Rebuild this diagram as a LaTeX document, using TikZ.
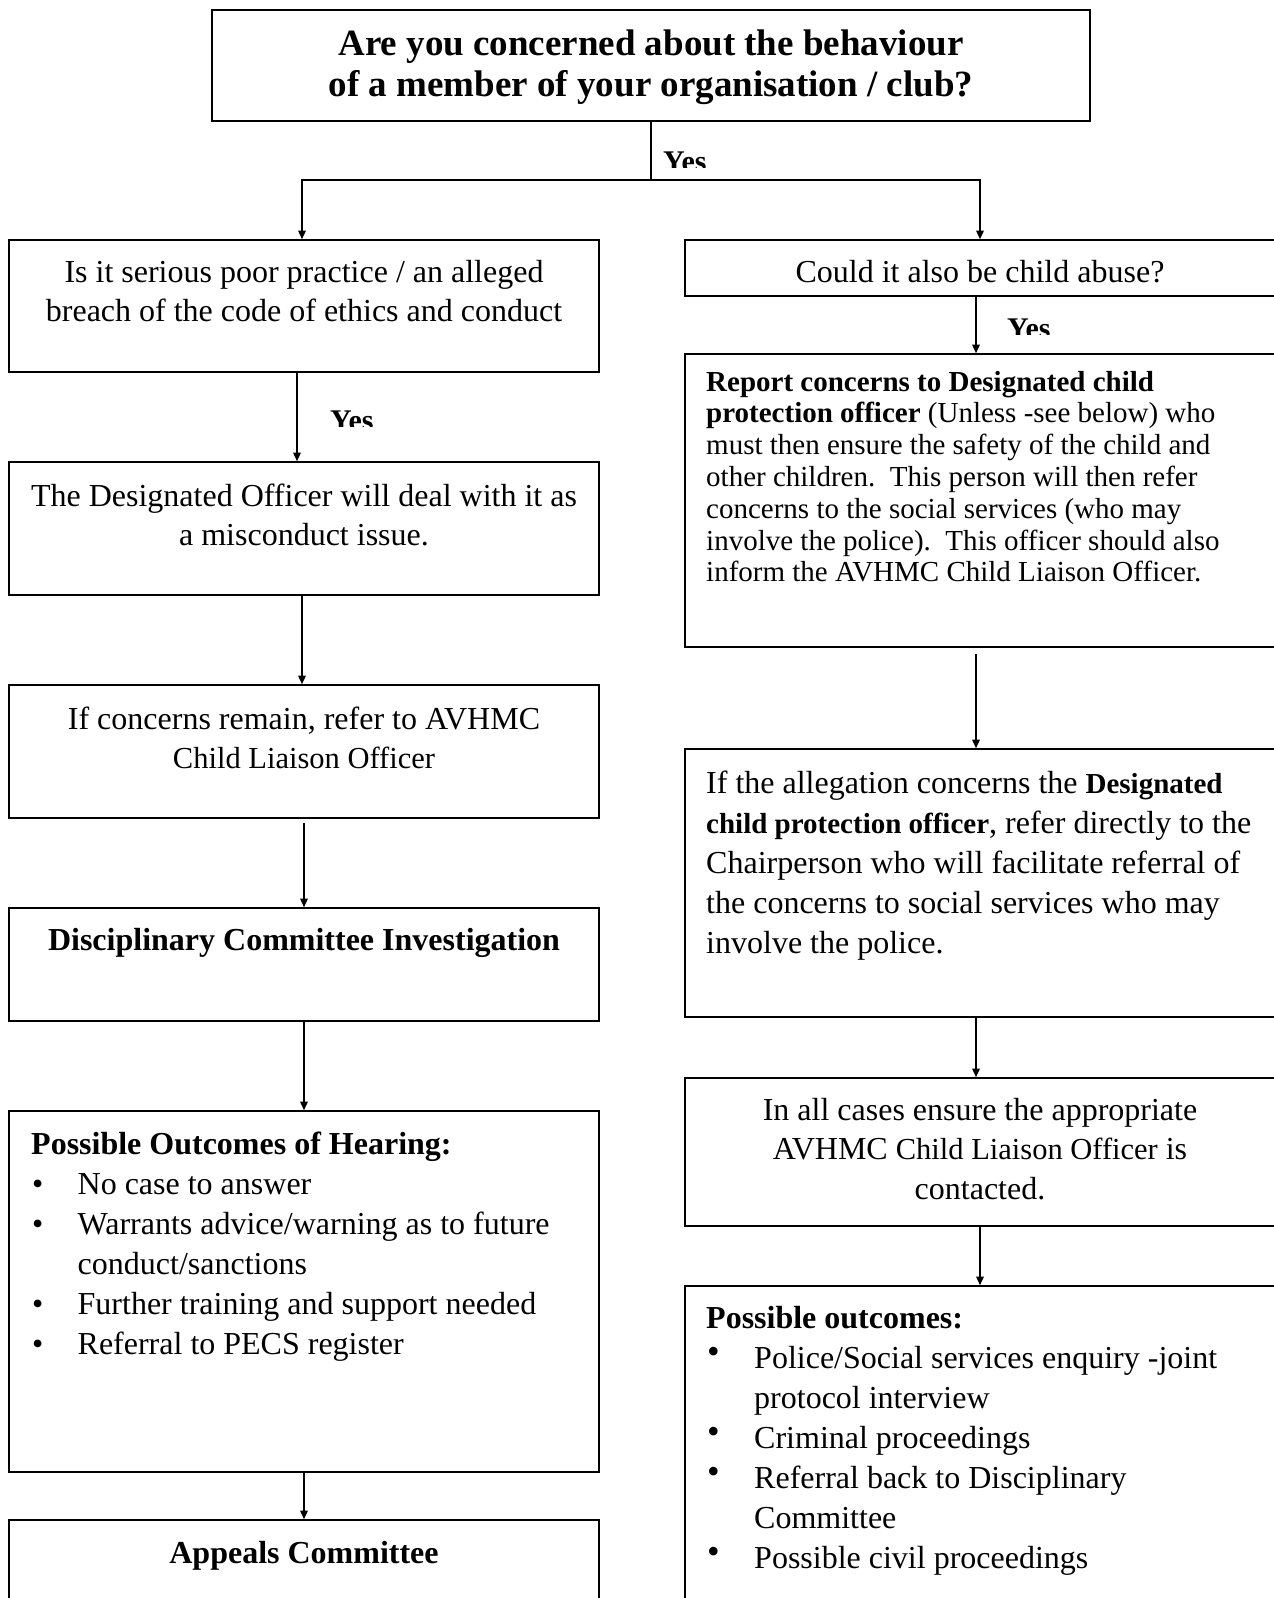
\documentclass[tikz,border=0pt]{standalone}
\usepackage{fontspec}
\usepackage{graphicx}
\setmainfont{Liberation Serif}
\usetikzlibrary{arrows.meta}
\newcommand\mkbox[5]{\node[box,minimum width={(#4)-(#2)},minimum height={(#5)-(#3)}] (#1) at ({((#2)+(#4))/2},{((#3)+(#5))/2}) {};}
\newcommand\blt{\hspace*{1pt}\makebox[45.5pt][l]{•}}
\newcommand\bltc{\hspace*{46.5pt}}
\newcommand\rblt{\hspace*{1pt}\makebox[47pt][l]{\raisebox{5pt}{\fontsize{36}{36}\selectfont •}}}
\newcommand\rbltc{\hspace*{48pt}}
\newcommand\cbold[1]{\textbf{\fontsize{29}{29}\selectfont #1}}
\newcommand\clo{{\fontsize{30.5}{30.5}\selectfont Child Liaison Officer}}
\tikzset{
 box/.style={draw,line width=1.6pt,rectangle,inner sep=0pt},
 conn/.style={line width=1.5pt},
 arr/.style={conn,-{Triangle[width=7.5pt,length=8.5pt]}},
 bodyf/.style={inner sep=0pt,font=\fontsize{32}{39.6}\selectfont},
 listf/.style={inner sep=0pt,font=\fontsize{32}{40}\selectfont},
 wideb/.style={inner sep=0pt,font=\fontsize{32}{40}\selectfont},
 smallf/.style={inner sep=0pt,font=\fontsize{29}{31.8}\selectfont},
 titlef/.style={inner sep=0pt,font=\fontsize{37}{41.5}\selectfont\bfseries},
 headf/.style={inner sep=0pt,font=\fontsize{32}{39.6}\selectfont\bfseries},
 yesf/.style={inner sep=0pt,font=\fontsize{30}{32}\selectfont\bfseries},
}
\begin{document}
\begin{tikzpicture}[x=1pt,y=-1pt]
\useasboundingbox (0,0) rectangle (1274,1598);
\fill[white] (0,0) rectangle (1274,1598);
\clip (0,0) rectangle (1274,1598);

% boxes
\mkbox{T}{212}{10}{1090}{121}
\mkbox{L1}{9}{240}{599}{372}
\mkbox{L2}{9}{462}{599}{595}
\mkbox{L3}{9}{685}{599}{818}
\mkbox{L4}{9}{908}{599}{1021}
\mkbox{L5}{9}{1111}{599}{1472}
\mkbox{L6}{9}{1520}{599}{1650}
\mkbox{R1}{685}{240}{1300}{296}
\mkbox{R2}{685}{354}{1300}{647}
\mkbox{R3}{685}{749}{1300}{1017}
\mkbox{R4}{685}{1078}{1300}{1226}
\mkbox{R5}{685}{1286}{1300}{1660}

% texts
\node[titlef,anchor=base] (tt) at (651,55) {\begin{tabular}[t]{@{}c@{}}Are you concerned about the behaviour\\of a member of your organisation / club?\end{tabular}};

\node[bodyf,anchor=base] (l1t) at (304,282) {\begin{tabular}[t]{@{}c@{}}Is it serious poor practice / an alleged\\breach of the code of ethics and conduct\end{tabular}};
\node[bodyf,anchor=base] (l2t) at (304,506) {\begin{tabular}[t]{@{}c@{}}The Designated Officer will deal with it as\\a misconduct issue.\end{tabular}};
\node[bodyf,anchor=base] (l3t) at (304,729) {\begin{tabular}[t]{@{}c@{}}If concerns remain, refer to AVHMC\\\clo\end{tabular}};
\node[headf,anchor=base] (l4t) at (304,950) {Disciplinary Committee Investigation};
\node[listf,anchor=base west] (l5t) at (31,1154) {\begin{tabular}[t]{@{}l@{}}\textbf{Possible Outcomes of Hearing:}\\
\blt No case to answer\\
\blt Warrants advice/warning as to future\\
\bltc conduct/sanctions\\
\blt Further training and support needed\\
\blt Referral to PECS register\end{tabular}};
\node[headf,anchor=base] (l6t) at (304,1563) {Appeals Committee};

\node[bodyf,anchor=base] (r1t) at (980,282) {Could it also be child abuse?};
\node[smallf,anchor=base west] (r2t) at (706,391) {\begin{tabular}[t]{@{}l@{}}\textbf{Report concerns to Designated child}\\
\textbf{protection officer} (Unless -see below) who\\
must then ensure the safety of the child and\\
other children.\ \ This person will then refer\\
concerns to the social services (who may\\
involve the police).\ \ This officer should also\\
inform the AVHMC Child Liaison Officer.\end{tabular}};
\node[wideb,anchor=base west] (r3t) at (706,793) {\begin{tabular}[t]{@{}l@{}}If the allegation concerns the \cbold{Designated}\\
\cbold{child protection officer}, refer directly to the\\
Chairperson who will facilitate referral of\\
the concerns to social services who may\\
involve the police.\end{tabular}};
\node[bodyf,anchor=base] (r4t) at (980,1120) {\begin{tabular}[t]{@{}c@{}}In all cases ensure the appropriate\\AVHMC \clo{} is\\contacted.\end{tabular}};
\node[listf,anchor=base west] (r5t) at (706,1328.5) {\begin{tabular}[t]{@{}l@{}}\textbf{Possible outcomes:}\\
\rblt Police/Social services enquiry -joint\\
\rbltc protocol interview\\
\rblt Criminal proceedings\\
\rblt Referral back to Disciplinary\\
\rbltc Committee\\
\rblt Possible civil proceedings\end{tabular}};

% yes labels (clipped at bottom as in the original)
\begin{scope}
\clip (655,140) rectangle (760,167);
\node[yesf,anchor=base west] (y0) at (663,171) {Yes};
\end{scope}
\begin{scope}
\clip (320,400) rectangle (420,426);
\node[yesf,anchor=base west] (y1) at (330,430.5) {Yes};
\end{scope}
\begin{scope}
\clip (1000,305) rectangle (1100,334);
\node[yesf,anchor=base west] (y2) at (1007,338) {Yes};
\end{scope}

% connectors
\coordinate (j) at (651,180);
\coordinate (xa) at (302,0);
\coordinate (xb) at (980,0);
\coordinate (x1) at (297,0);
\coordinate (x2) at (302,0);
\coordinate (x3) at (304,0);
\coordinate (x4) at (976,0);
\coordinate (x5) at (980,0);
\draw[conn] (T.south) -- (j);
\draw[arr] (j) -| (L1.north -| xa);
\draw[arr] (j) -| (R1.north -| xb);
\draw[arr] (L1.south -| x1) -- (L2.north -| x1);
\draw[arr] (L2.south -| x2) -- (L3.north -| x2);
\draw[arr,shorten <=4pt] (L3.south -| x3) -- (L4.north -| x3);
\draw[arr] (L4.south -| x3) -- (L5.north -| x3);
\draw[arr] (L5.south -| x3) -- (L6.north -| x3);
\draw[arr] (R1.south -| x4) -- (R2.north -| x4);
\draw[arr,shorten <=6pt] (R2.south -| x4) -- (R3.north -| x4);
\draw[arr] (R3.south -| x4) -- (R4.north -| x4);
\draw[arr] (R4.south -| x5) -- (R5.north -| x5);
\end{tikzpicture}
\end{document}
